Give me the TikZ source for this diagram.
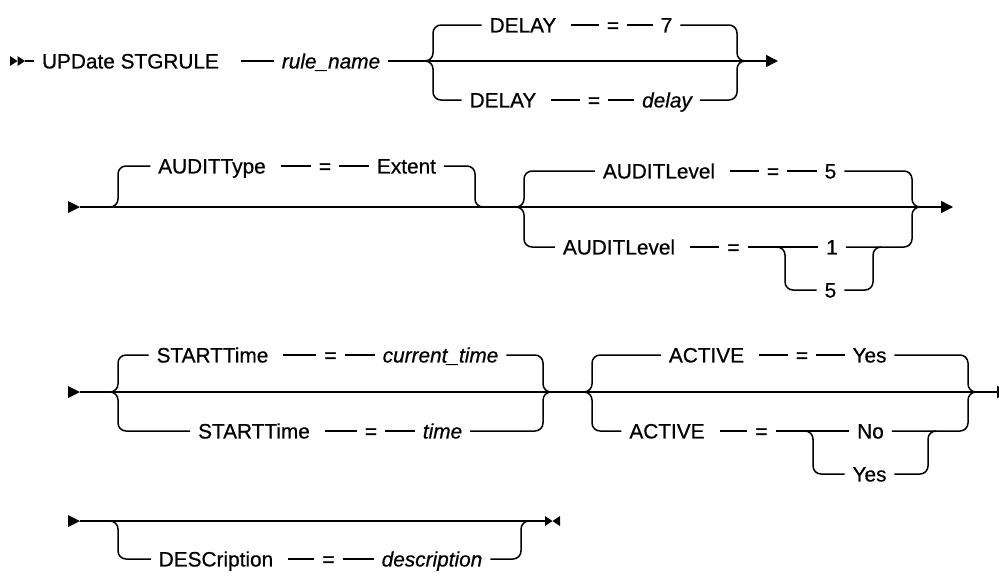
\documentclass[tikz,border=0pt]{standalone}
\usepackage{fontspec}
\setmainfont{Liberation Sans}[FakeBold=0.6]
\usetikzlibrary{arrows.meta}

\begin{document}
\begin{tikzpicture}[x=0.5pt,y=-0.5pt,line width=0.75pt,font=\fontsize{10.4}{12}\selectfont,
  lbl/.style={inner sep=0pt,outer xsep=4pt,outer ysep=0pt,text height=7.45pt,text depth=0pt},
  var/.style={lbl,font=\fontsize{10.4}{12}\selectfont\itshape},
  rnd/.style={rounded corners=4pt},
  kd/.style={shorten <=3.5pt},
  tip/.style={-{Triangle[length=6pt,width=6pt]}}]
\useasboundingbox (0,0) rectangle (999,579);
\clip (0,0) rectangle (999,579);

\coordinate (s1) at (25,61);
\coordinate (c1) at (425,61);
\coordinate (c2) at (745,61);
\coordinate (e1) at (778,61);
\coordinate (s2) at (80,207);
\coordinate (o1) at (110,207);
\coordinate (o2) at (483,207);
\coordinate (c3) at (516,207);
\coordinate (c4) at (920,207);
\coordinate (e2) at (953,207);
\coordinate (k1) at (777,247);
\coordinate (k2) at (881,247);
\coordinate (s3) at (80,392);
\coordinate (c5) at (110,392);
\coordinate (c6) at (551,392);
\coordinate (c7) at (584,392);
\coordinate (c8) at (976,392);
\coordinate (e3) at (1009,392);
\coordinate (k3) at (805,431);
\coordinate (k4) at (936,431);
\coordinate (s4) at (80,521);
\coordinate (o3) at (110,521);
\coordinate (o4) at (529,521);
\coordinate (e4) at (545,521);

\node[lbl] (upd) at (130.5,61) {UPDate STGRULE};
\node[var] (rn) at (331,61) {rule\_name};
\node[lbl] (dly1) at (523,25) {DELAY};
\node[lbl] (eq1) at (613,25) {=};
\node[lbl] (v7) at (666.5,25) {7};
\node[lbl] (dly2) at (503,100) {DELAY};
\node[lbl] (eq2) at (594,100) {=};
\node[var] (dl) at (667,100) {delay};

\node[lbl] (aud) at (212,166) {AUDITType};
\node[lbl] (eq3) at (325,166) {=};
\node[lbl] (ext) at (406.5,166) {Extent};
\node[lbl] (al1) at (659,171) {AUDITLevel};
\node[lbl] (eq4) at (773,171) {=};
\node[lbl] (v5a) at (830.5,171) {5};
\node[lbl] (al2) at (619,247) {AUDITLevel};
\node[lbl] (eq5) at (733.5,247) {=};
\node[lbl] (v1) at (832,247) {1};
\node[lbl] (v5b) at (830.5,290) {5};

\node[lbl] (st1) at (212.5,355) {STARTTime};
\node[lbl] (eq6) at (330.5,355) {=};
\node[var] (ct) at (440.5,355) {current\_time};
\node[lbl] (st2) at (254,431) {STARTTime};
\node[lbl] (eq7) at (371,431) {=};
\node[var] (tm) at (442.5,431) {time};
\node[lbl] (ac1) at (706.5,355) {ACTIVE};
\node[lbl] (eq8) at (802,355) {=};
\node[lbl] (ys1) at (869.5,355) {Yes};
\node[lbl] (ac2) at (667,431) {ACTIVE};
\node[lbl] (eq9) at (761.5,431) {=};
\node[lbl] (no) at (870.5,431) {No};
\node[lbl] (ys2) at (869.5,474) {Yes};

\node[lbl] (ds) at (216,559) {DESCription};
\node[lbl] (eq10) at (328.5,559) {=};
\node[var] (dsv) at (432,559) {description};

\foreach \x in {10,17.5}
  \fill (\x,56) -- (\x+7.5,61) -- (\x,66) -- cycle;
\foreach \y in {207,392,521}
  \fill (68,\y-6) -- (80,\y) -- (68,\y+6) -- cycle;
\fill (545,516) -- (552.5,521) -- (545,526) -- cycle;
\fill (560,516) -- (552.5,521) -- (560,526) -- cycle;

\draw (s1) -- (upd);
\draw[shorten <=7pt] (upd) -- (rn);
\draw (rn) -- (c1) -- (c2);
\draw[tip] (c2) -- (e1);
\draw[rnd] (c1) -| (433,25) -- (dly1);
\draw[kd] (dly1) -- (eq1);
\draw (eq1) -- (v7);
\draw[rnd] (v7) -- (737,25) |- (c2);
\draw[rnd] (c1) -| (433,100) -- (dly2);
\draw[kd] (dly2) -- (eq2);
\draw (eq2) -- (dl);
\draw[rnd] (dl) -- (737,100) |- (c2);

\draw (s2) -- (c3) -- (c4);
\draw[tip] (c4) -- (e2);
\draw[rnd] (o1) -| (118,166) -- (aud);
\draw[kd] (aud) -- (eq3);
\draw (eq3) -- (ext);
\draw[rnd] (ext) -- (475,166) |- (o2);
\draw[rnd] (c3) -| (524,171) -- (al1);
\draw[kd] (al1) -- (eq4);
\draw (eq4) -- (v5a);
\draw[rnd] (v5a) -- (912,171) |- (c4);
\draw[rnd] (c3) -| (524,247) -- (al2);
\draw[kd] (al2) -- (eq5);
\draw (eq5) -- (v1);
\draw[rnd] (v1) -- (912,247) |- (c4);
\draw[rnd] (k1) -| (785,290) -- (v5b);
\draw[rnd] (v5b) -- (873,290) |- (k2);

\draw (s3) -- (c5) -- (c6) -- (c7) -- (c8);
\draw[tip] (c8) -- (e3);
\draw[rnd] (c5) -| (118,355) -- (st1);
\draw[kd] (st1) -- (eq6);
\draw (eq6) -- (ct);
\draw[rnd] (ct) -- (543,355) |- (c6);
\draw[rnd] (c5) -| (118,431) -- (st2);
\draw[kd] (st2) -- (eq7);
\draw (eq7) -- (tm);
\draw[rnd] (tm) -- (543,431) |- (c6);
\draw[rnd] (c7) -| (592,355) -- (ac1);
\draw[kd] (ac1) -- (eq8);
\draw (eq8) -- (ys1);
\draw[rnd] (ys1) -- (968,355) |- (c8);
\draw[rnd] (c7) -| (592,431) -- (ac2);
\draw[kd] (ac2) -- (eq9);
\draw (eq9) -- (no);
\draw[rnd] (no) -- (968,431) |- (c8);
\draw[rnd] (k3) -| (813,474) -- (ys2);
\draw[rnd] (ys2) -- (928,474) |- (k4);

\draw (s4) -- (e4);
\draw[rnd] (o3) -| (118,559) -- (ds);
\draw[kd] (ds) -- (eq10);
\draw (eq10) -- (dsv);
\draw[rnd] (dsv) -- (521,559) |- (o4);
\end{tikzpicture}
\end{document}
